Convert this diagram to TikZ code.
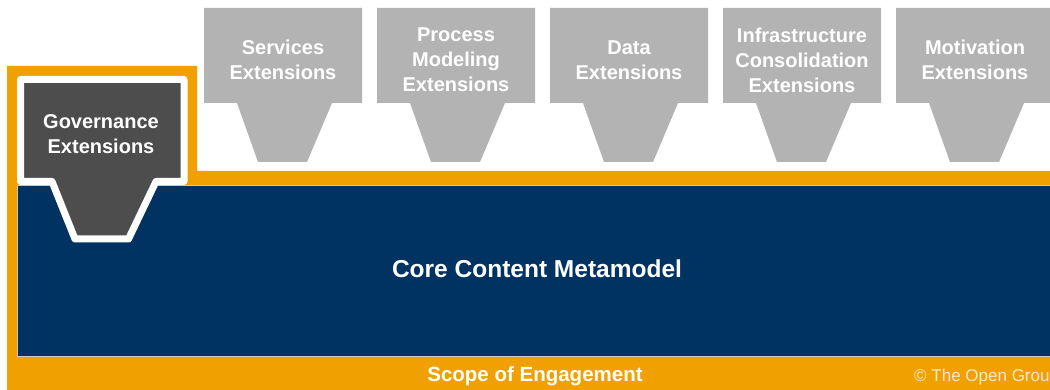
\documentclass[tikz,border=0pt]{standalone}
\usepackage{fontspec}
\setmainfont{Liberation Sans}
\definecolor{tgorange}{RGB}{240,160,0}
\definecolor{tgnavy}{RGB}{0,51,98}
\definecolor{tggray}{RGB}{179,179,179}
\definecolor{tgdark}{RGB}{77,77,77}
\definecolor{tgcream}{RGB}{250,235,205}
\begin{document}
\begin{tikzpicture}[x=1pt,y=-1pt,
  lbl/.style={text=white,font=\bfseries\fontsize{20}{25}\selectfont,align=center,inner sep=0pt},
  funnel/.style={fill=tggray},
  govshape/.style={fill=tgdark,draw=white,line width=7pt,line join=round}]
\useasboundingbox (0,0) rectangle (1050,390);
\clip (0,0) rectangle (1050,390);
% scope of engagement (orange frame)
\fill[tgorange] (7,66) -- (197,66) -- (197,171) -- (1060,171) -- (1060,400) -- (7,400) -- cycle;
% core content metamodel
\filldraw[fill=tgnavy, draw=black!22, line width=1pt] (17,185.5) rectangle (1060,356.5);
% extension funnels
\foreach \L/\nm/\txt in {204/svc/{Services\\Extensions},
                         377/proc/{Process\\Modeling\\Extensions},
                         550/data/{Data\\Extensions},
                         723/infra/{Infrastructure\\Consolidation\\Extensions},
                         896/motiv/{Motivation\\Extensions}}{
  \fill[funnel] (\L,8) -- (\L+158,8) -- (\L+158,103) -- (\L+128,103) -- (\L+103,162)
     -- (\L+54,162) -- (\L+33,103) -- (\L,103) -- cycle;
  \node[lbl] (\nm) at (\L+79,60) {\txt};
}
% governance
\filldraw[govshape] (20.5,79.5) -- (184,79.5) -- (184,181.5) -- (156,181.5) -- (128.5,239)
   -- (75,239) -- (52,181.5) -- (20.5,181.5) -- cycle;
\node[lbl] (gov) at (101,134) {Governance\\Extensions};
% texts
\node[text=white,font=\bfseries\fontsize{24.5}{28}\selectfont,anchor=base,inner sep=0pt] (core) at (537,277) {Core Content Metamodel};
\node[text=white,font=\bfseries\fontsize{20.5}{24}\selectfont,anchor=base,inner sep=0pt] (scope) at (535,381) {Scope of Engagement};
\node[text=tgcream,font=\fontsize{17}{20}\selectfont,anchor=base west,inner sep=0pt] (copy) at (914,381) {© The Open Group};
\end{tikzpicture}
\end{document}
